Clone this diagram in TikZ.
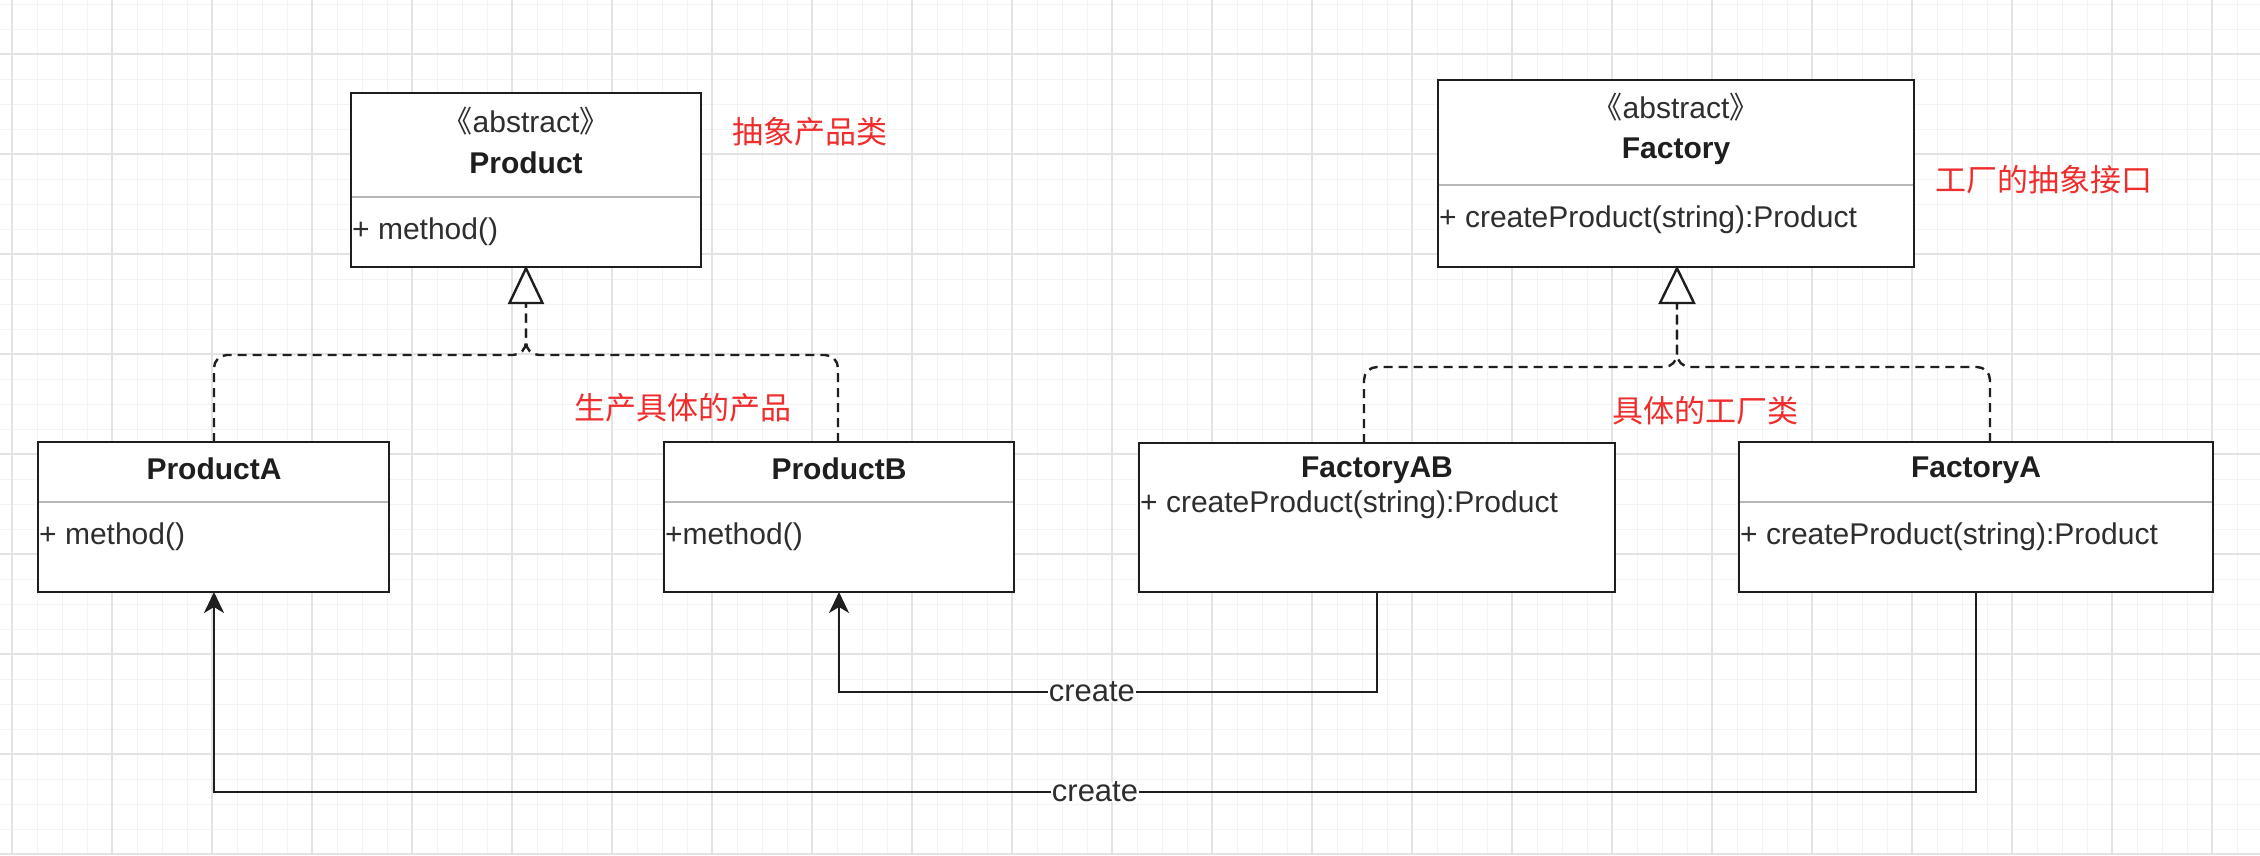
\documentclass[tikz,border=0pt]{standalone}
\usepackage{fontspec}
\setmainfont{Liberation Sans}
\newfontfamily\cjk{Noto Sans CJK SC}
\usetikzlibrary{arrows.meta}
\definecolor{gridmajor}{HTML}{E3E3E3}
\definecolor{gridminor}{HTML}{F3F3F3}
\definecolor{ink}{HTML}{1E1E1E}
\definecolor{txt}{HTML}{2E2E2E}
\definecolor{sep}{HTML}{B8B8B8}
\definecolor{note}{RGB}{240,45,45}
\tikzset{
  umlbox/.style={draw=ink, line width=2.6pt, fill=white, inner sep=0pt},
  divider/.style={draw=sep, line width=2.4pt},
  ttl/.style={font=\fontsize{30}{34}\selectfont\bfseries, text=ink, inner sep=0pt},
  stereo/.style={font=\fontsize{30}{34}\selectfont, text=txt, inner sep=0pt},
  meth/.style={font=\fontsize{30}{34}\selectfont, text=txt, inner sep=0pt, anchor=west},
  notelbl/.style={font=\cjk\fontsize{31}{36}\selectfont, text=note, inner sep=0pt},
  realize/.style={draw=ink, line width=2.4pt, dash pattern=on 9pt off 6pt, rounded corners=13pt},
  inherit/.style={draw=ink, line width=2.4pt, fill=white, line join=miter},
  assoc/.style={draw=ink, line width=2.4pt, -{Stealth[length=21pt,width=20pt,inset=6pt]}},
  edgelbl/.style={font=\fontsize{31}{35}\selectfont, text=txt, fill=white, inner xsep=1pt, inner ysep=0pt}
}
\begin{document}
\begin{tikzpicture}[x=1pt,y=-1pt]
\useasboundingbox (0,0) rectangle (2260,855);
\fill[white] (0,0) rectangle (2260,855);
% grid
\foreach \gx in {12,37,...,2260} \draw[gridminor, line width=1pt] (\gx,0) -- (\gx,855);
\foreach \gy in {4,29,...,855} \draw[gridminor, line width=1pt] (0,\gy) -- (2260,\gy);
\foreach \gx in {12,112,...,2260} \draw[gridmajor, line width=2pt] (\gx,0) -- (\gx,855);
\foreach \gy in {54,154,...,855} \draw[gridmajor, line width=2pt] (0,\gy) -- (2260,\gy);

% boxes
\node[umlbox, minimum width=350pt, minimum height=174pt] (prod) at (526,180) {};
\node[umlbox, minimum width=476pt, minimum height=187pt] (fact) at (1676,173.5) {};
\node[umlbox, minimum width=351pt, minimum height=150pt] (pa) at (213.5,517) {};
\node[umlbox, minimum width=350pt, minimum height=150pt] (pb) at (839,517) {};
\node[umlbox, minimum width=476pt, minimum height=149pt] (fab) at (1377,517.5) {};
\node[umlbox, minimum width=474pt, minimum height=150pt] (fa) at (1976,517) {};

% dividers
\draw[divider] (352,197) -- (700,197);
\draw[divider] (1439,185) -- (1913,185);
\draw[divider] (39,502) -- (388,502);
\draw[divider] (665,502) -- (1013,502);
\draw[divider] (1740,502) -- (2212,502);

% texts
\node[stereo] (prodst) at (526,121) {{\cjk 《}abstract{\cjk 》}};
\node[ttl] (prodt) at (526,163) {Product};
\node[meth] (prodm) at (352,232) {+ method()};

\node[stereo] (factst) at (1676,107) {{\cjk 《}abstract{\cjk 》}};
\node[ttl] (factt) at (1676,151) {Factory};
\node[meth] (factm) at (1439,220) {+ createProduct(string):Product};

\node[ttl] (pat) at (214,469) {ProductA};
\node[meth] (pam) at (39,537) {+ method()};

\node[ttl] (pbt) at (839,469) {ProductB};
\node[meth] (pbm) at (665,537) {+method()};

\node[ttl] (fabt) at (1377,470) {FactoryAB};
\node[meth] (fabm) at (1140,505) {+ createProduct(string):Product};

\node[ttl] (fat) at (1976,470) {FactoryA};
\node[meth] (fam) at (1740,537) {+ createProduct(string):Product};

% red notes
\node[notelbl] (n1) at (810,132) {抽象产品类};
\node[notelbl] (n2) at (683,408) {生产具体的产品};
\node[notelbl] (n3) at (2044,180) {工厂的抽象接口};
\node[notelbl] (n4) at (1705,411) {具体的工厂类};

% connection points
\coordinate (paTop) at (214,442);
\coordinate (pbTop) at (838,442);
\coordinate (pjoin) at (526,355);
\coordinate (ptri) at (526,303);
\coordinate (fabTop) at (1364,443);
\coordinate (faTop) at (1990,442);
\coordinate (fjoin) at (1677,367);
\coordinate (ftri) at (1677,303);

% realization (dashed) edges
\draw[realize] (paTop) |- (pjoin) -- (ptri);
\draw[realize] (pbTop) |- (pjoin) -- (ptri);
\draw[realize] (fabTop) |- (fjoin) -- (ftri);
\draw[realize] (faTop) |- (fjoin) -- (ftri);

% hollow triangles
\draw[inherit] (prod.south) -- (509.5,303) -- (542.5,303) -- cycle;
\draw[inherit] (fact.south) ++(1,0) -- (1660,303) -- (1694,303) -- cycle;

% create associations
\coordinate (fabBot) at (1377,592);
\coordinate (pbBot) at (839,592);
\coordinate (faBot) at (1976,592);
\coordinate (paBot) at (214,592);
\draw[assoc] (fabBot) -- (1377,692) -- node[edgelbl, pos=0.53] (c1) {create} (839,692) -- (pbBot);
\draw[assoc] (faBot) -- (1976,792) -- node[edgelbl, pos=0.5] (c2) {create} (214,792) -- (paBot);
\end{tikzpicture}
\end{document}
